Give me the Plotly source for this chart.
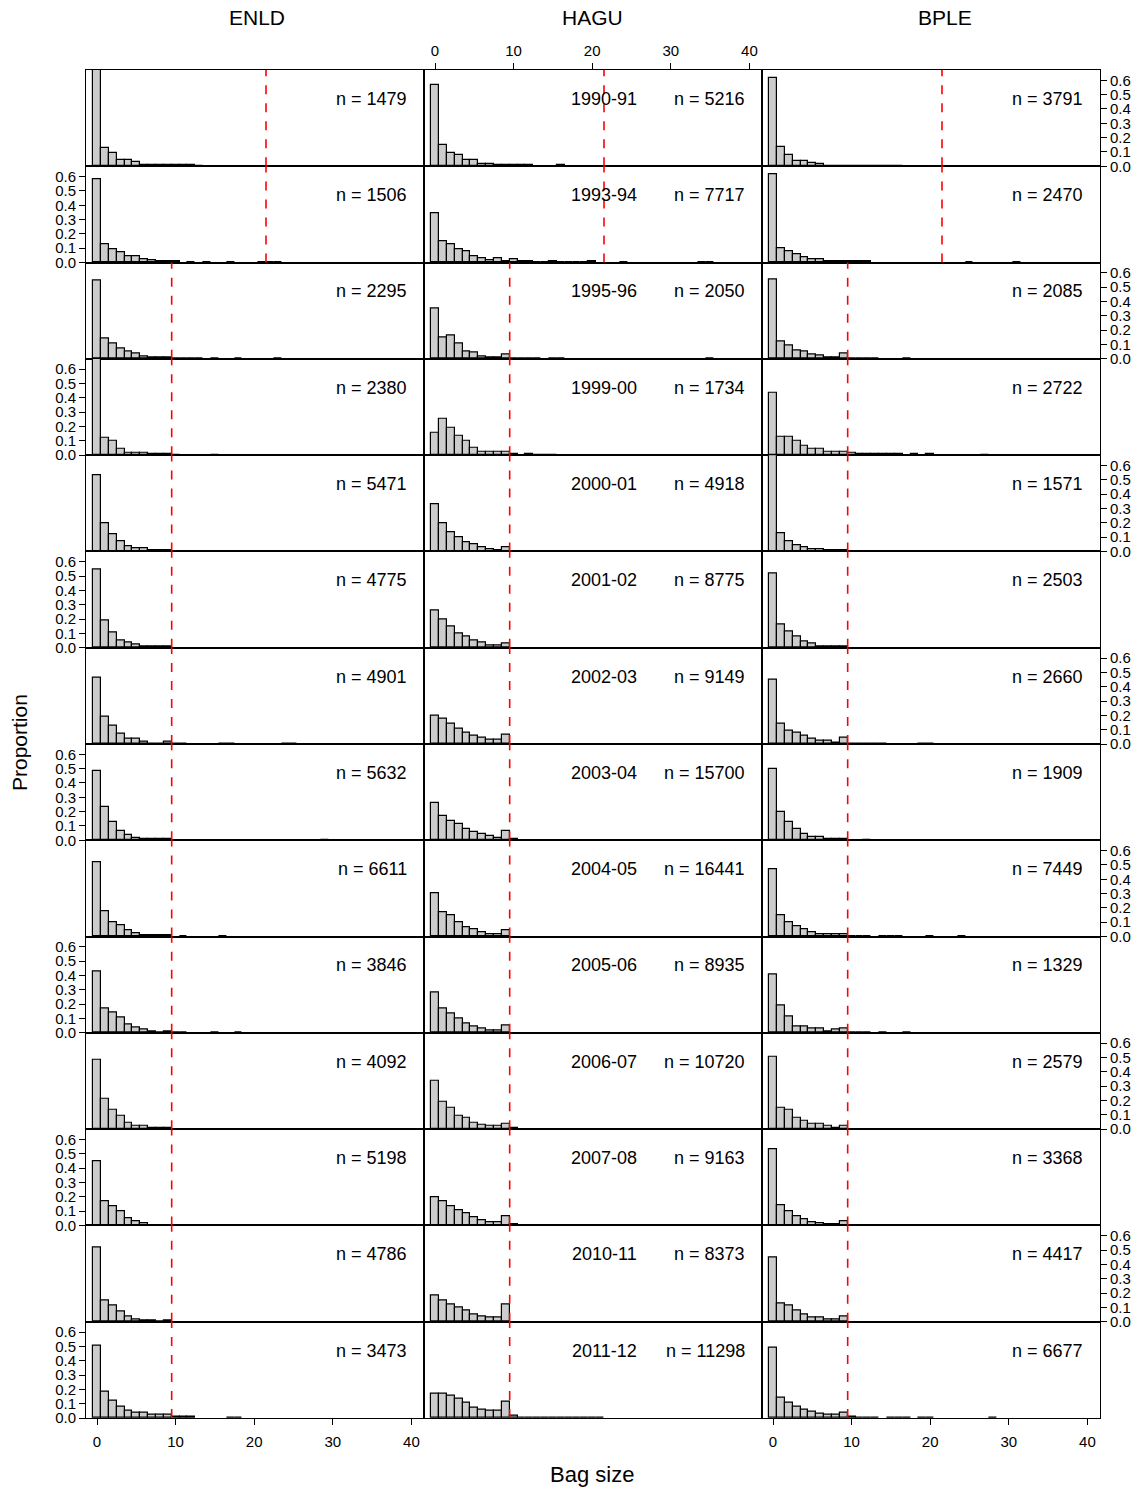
import plotly.graph_objects as go
from plotly.subplots import make_subplots

seasons = ["1990-91", "1993-94", "1995-96", "1999-00", "2000-01", "2001-02", "2002-03",
           "2003-04", "2004-05", "2005-06", "2006-07", "2007-08", "2010-11", "2011-12"]
species = ["ENLD", "HAGU", "BPLE"]
tick_x = [0, 10, 20, 30, 40]
tick_y = [0.0, 0.1, 0.2, 0.3, 0.4, 0.5, 0.6]

# bag limit line position per season (limit + 0.5)
limit_line = [21.5, 21.5, 9.5, 9.5, 9.5, 9.5, 9.5, 9.5, 9.5, 9.5, 9.5, 9.5, 9.5, 9.5]

enld_n = [1479, 1506, 2295, 2380, 5471, 4775, 4901, 5632, 6611, 3846, 4092, 5198, 4786, 3473]
hagu_n = [5216, 7717, 2050, 1734, 4918, 8775, 9149, 15700, 16441, 8935, 10720, 9163, 8373, 11298]
bple_n = [3791, 2470, 2085, 2722, 1571, 2503, 2660, 1909, 7449, 1329, 2579, 3368, 4417, 6677]

# proportions of bags by bag size 0,1,2,...
enld_prop = [
    [0.75, 0.13, 0.093, 0.047, 0.047, 0.033, 0.008, 0.008, 0.008, 0.006, 0.006, 0.006, 0.006, 0.005],
    [0.584, 0.131, 0.096, 0.07, 0.047, 0.047, 0.026, 0.014, 0.012, 0.008, 0.012, 0, 0.003, 0, 0.003,
     0, 0, 0.003, 0, 0, 0, 0.002, 0.002, 0.002],
    [0.547, 0.14, 0.107, 0.07, 0.049, 0.035, 0.014, 0.009, 0.009, 0.009, 0.003, 0.003, 0.003, 0.003, 0,
     0.003, 0, 0, 0.003, 0, 0, 0, 0, 0.003],
    [0.75, 0.121, 0.098, 0.047, 0.015, 0.015, 0.015, 0.007, 0.007, 0.007, 0.005, 0, 0, 0, 0, 0.002],
    [0.535, 0.2, 0.119, 0.07, 0.035, 0.021, 0.021, 0.009, 0.009, 0.009, 0.003, 0.003, 0, 0.003, 0.003,
     0, 0, 0.003, 0.003, 0.003, 0, 0, 0, 0, 0, 0, 0, 0, 0.002],
    [0.549, 0.189, 0.11, 0.049, 0.035, 0.023, 0.01, 0.007, 0.007, 0.007],
    [0.465, 0.192, 0.131, 0.072, 0.037, 0.037, 0.014, 0.005, 0.005, 0.014, 0.002, 0.002, 0, 0, 0, 0,
     0.002, 0.002, 0, 0, 0, 0, 0, 0, 0.002, 0.002],
    [0.481, 0.234, 0.126, 0.063, 0.04, 0.019, 0.007, 0.007, 0.007, 0.007, 0, 0, 0, 0, 0, 0, 0, 0, 0,
     0, 0, 0, 0, 0, 0, 0, 0, 0, 0, 0.002],
    [0.521, 0.175, 0.103, 0.077, 0.042, 0.021, 0.007, 0.007, 0.007, 0.007, 0, 0.002, 0, 0, 0, 0, 0.002],
    [0.43, 0.168, 0.143, 0.107, 0.058, 0.035, 0.023, 0.012, 0.003, 0.009, 0.003, 0.003, 0, 0, 0,
     0.002, 0, 0, 0.002],
    [0.486, 0.213, 0.138, 0.091, 0.047, 0.021, 0.021, 0.007, 0.007, 0.007],
    [0.446, 0.171, 0.136, 0.098, 0.051, 0.028, 0.014, 0.005, 0.005, 0.005, 0.003, 0.003, 0.003, 0.003,
     0, 0, 0, 0, 0, 0, 0, 0, 0, 0, 0, 0, 0, 0, 0.002, 0.002, 0, 0, 0, 0, 0, 0.002, 0, 0, 0, 0.002],
    [0.519, 0.152, 0.112, 0.075, 0.04, 0.019, 0.009, 0.009, 0.002, 0.009],
    [0.502, 0.18, 0.121, 0.082, 0.049, 0.035, 0.035, 0.021, 0.021, 0.021, 0.007, 0.007, 0.007, 0, 0,
     0, 0, 0.002, 0.002],
]

hagu_prop = [
    [0.57, 0.15, 0.091, 0.079, 0.042, 0.042, 0.019, 0.019, 0.009, 0.009, 0.009, 0.009, 0.009, 0, 0, 0,
     0.009],
    [0.343, 0.152, 0.126, 0.091, 0.079, 0.042, 0.028, 0.019, 0.03, 0.012, 0.021, 0.012, 0.012, 0.005,
     0.005, 0.009, 0.003, 0.003, 0.003, 0.003, 0.009, 0, 0, 0, 0.002, 0, 0, 0, 0, 0, 0, 0, 0, 0,
     0.002, 0.002],
    [0.35, 0.147, 0.164, 0.105, 0.054, 0.042, 0.019, 0.009, 0.009, 0.033, 0.004, 0.004, 0.004, 0.004,
     0, 0.003, 0.003, 0, 0, 0, 0, 0, 0, 0, 0, 0, 0, 0, 0, 0, 0, 0, 0, 0, 0, 0.002],
    [0.157, 0.252, 0.192, 0.133, 0.103, 0.054, 0.021, 0.021, 0.021, 0.021, 0.007, 0, 0.007, 0.002,
     0.002, 0.002],
    [0.329, 0.199, 0.138, 0.1, 0.068, 0.054, 0.03, 0.019, 0.009, 0.03, 0.002, 0.002, 0, 0, 0, 0, 0,
     0, 0, 0, 0, 0, 0.002, 0, 0, 0, 0, 0, 0, 0, 0, 0, 0, 0, 0, 0, 0, 0, 0, 0.002, 0.002],
    [0.257, 0.199, 0.152, 0.103, 0.079, 0.054, 0.04, 0.019, 0.019, 0.03],
    [0.199, 0.178, 0.14, 0.105, 0.079, 0.056, 0.042, 0.033, 0.033, 0.068],
    [0.259, 0.173, 0.138, 0.112, 0.077, 0.056, 0.047, 0.03, 0.019, 0.065, 0.007],
    [0.304, 0.173, 0.147, 0.098, 0.065, 0.051, 0.033, 0.019, 0.019, 0.042],
    [0.283, 0.173, 0.138, 0.103, 0.065, 0.042, 0.03, 0.019, 0.019, 0.054],
    [0.334, 0.187, 0.152, 0.093, 0.079, 0.047, 0.033, 0.021, 0.021, 0.035, 0.009],
    [0.194, 0.171, 0.136, 0.11, 0.086, 0.058, 0.04, 0.026, 0.026, 0.063, 0.007],
    [0.182, 0.152, 0.124, 0.1, 0.079, 0.051, 0.037, 0.028, 0.028, 0.124],
    [0.173, 0.173, 0.157, 0.133, 0.107, 0.072, 0.056, 0.049, 0.049, 0.112, 0.014, 0.003, 0.003, 0.002,
     0.002, 0.002, 0.002, 0.002, 0.002, 0.002, 0.002, 0.002],
]

bple_prop = [
    [0.617, 0.138, 0.082, 0.04, 0.04, 0.026, 0.016, 0.005, 0.005, 0.005, 0.005, 0.005, 0.005, 0.005,
     0.005, 0.005, 0.005],
    [0.617, 0.1, 0.077, 0.056, 0.04, 0.021, 0.021, 0.007, 0.007, 0.007, 0.007, 0.007, 0.007, 0, 0, 0,
     0, 0, 0, 0, 0, 0, 0, 0, 0, 0.002, 0, 0, 0, 0, 0, 0.002],
    [0.551, 0.121, 0.096, 0.058, 0.049, 0.033, 0.026, 0.012, 0.012, 0.04, 0.005, 0.005, 0.005, 0.005,
     0, 0, 0, 0.002],
    [0.432, 0.126, 0.126, 0.098, 0.065, 0.044, 0.044, 0.023, 0.023, 0.023, 0.014, 0.007, 0.007, 0.007,
     0.007, 0.007, 0.007, 0, 0.007, 0, 0.007, 0, 0, 0, 0, 0, 0, 0.002],
    [0.75, 0.128, 0.07, 0.042, 0.03, 0.019, 0.019, 0.007, 0.007, 0.007, 0.003, 0.003, 0, 0, 0, 0, 0,
     0, 0, 0.002],
    [0.521, 0.161, 0.114, 0.079, 0.044, 0.028, 0.012, 0.012, 0.012, 0.012],
    [0.451, 0.14, 0.091, 0.079, 0.056, 0.035, 0.023, 0.023, 0.012, 0.047, 0.002, 0.002, 0.002, 0.002,
     0.002, 0, 0, 0, 0, 0.002, 0.002],
    [0.5, 0.199, 0.129, 0.077, 0.042, 0.021, 0.021, 0.009, 0.009, 0.009, 0, 0, 0.002],
    [0.472, 0.147, 0.1, 0.075, 0.051, 0.03, 0.019, 0.019, 0.019, 0.019, 0.002, 0.002, 0.002, 0, 0.002,
     0.002, 0.002, 0, 0, 0, 0.002, 0, 0, 0, 0.002],
    [0.404, 0.189, 0.114, 0.044, 0.044, 0.033, 0.033, 0.012, 0.023, 0.033, 0.002, 0.002, 0.002, 0,
     0.002, 0, 0, 0.002],
    [0.505, 0.152, 0.133, 0.079, 0.058, 0.035, 0.035, 0.023, 0.012, 0.023],
    [0.533, 0.14, 0.103, 0.065, 0.042, 0.026, 0.016, 0.007, 0.007, 0.03, 0.002, 0.002, 0.002, 0, 0,
     0.002, 0.002, 0, 0, 0, 0, 0, 0, 0, 0, 0, 0.002],
    [0.451, 0.126, 0.114, 0.077, 0.054, 0.03, 0.03, 0.019, 0.019, 0.035],
    [0.493, 0.145, 0.107, 0.082, 0.061, 0.044, 0.033, 0.023, 0.023, 0.04, 0.012, 0.002, 0.002, 0.002,
     0, 0.002, 0.002, 0.002, 0, 0.002, 0.002, 0, 0, 0, 0, 0, 0, 0, 0.002],
]

all_prop = [enld_prop, hagu_prop, bple_prop]
all_n = [enld_n, hagu_n, bple_n]

FONT = "Liberation Sans, Arial, sans-serif"
NR, NC = len(seasons), 3

fig = make_subplots(rows=NR, cols=NC, horizontal_spacing=0, vertical_spacing=0)

for r in range(NR):
    for c in range(NC):
        vals = all_prop[c][r]
        xs = list(range(len(vals)))
        ys = [v if v > 0 else None for v in vals]
        fig.add_trace(go.Bar(x=xs, y=ys, width=1,
                             marker=dict(color="#cccccc", line=dict(color="black", width=1.2)),
                             showlegend=False, hoverinfo="x+y"),
                      row=r + 1, col=c + 1)
        idx = r * NC + c + 1
        sfx = "" if idx == 1 else str(idx)
        fig.add_shape(type="line", xref="x" + sfx, yref="y" + sfx + " domain",
                      x0=limit_line[r], x1=limit_line[r], y0=0, y1=1,
                      line=dict(color="red", width=1.6, dash="dash"))
        fig.add_annotation(xref="x" + sfx + " domain", yref="y" + sfx + " domain",
                           x=0.955, y=0.70, xanchor="right", yanchor="middle",
                           text="n = %d" % all_n[c][r], showarrow=False,
                           font=dict(family=FONT, size=18, color="black"))
        if c == 1:
            fig.add_annotation(xref="x" + sfx + " domain", yref="y" + sfx + " domain",
                               x=0.533, y=0.70, xanchor="center", yanchor="middle",
                               text=seasons[r], showarrow=False,
                               font=dict(family=FONT, size=18, color="black"))

        # axes
        show_x = (r == NR - 1 and c in (0, 2)) or (r == 0 and c == 1)
        xa = dict(range=[-1.4, 41.6], showline=True, linecolor="black", linewidth=1,
                  mirror=True, showgrid=False, zeroline=False,
                  tickvals=tick_x, ticks="outside" if show_x else "",
                  ticklen=6, tickwidth=1, tickcolor="black",
                  showticklabels=show_x, ticklabelstandoff=4,
                  tickfont=dict(family=FONT, size=15, color="black"))
        if r == 0 and c == 1:
            xa["side"] = "top"
            xa["ticklabelstandoff"] = 1
        fig.update_xaxes(xa, row=r + 1, col=c + 1)

        show_y_left = (c == 0 and r % 2 == 1)
        show_y_right = (c == 2 and r % 2 == 0)
        show_y = show_y_left or show_y_right
        ya = dict(range=[0, 0.672], showline=True, linecolor="black", linewidth=1,
                  mirror=True, showgrid=False, zeroline=False,
                  tickvals=tick_y, tickformat=".1f",
                  ticks="outside" if show_y else "", ticklen=6, tickwidth=1, tickcolor="black",
                  showticklabels=show_y,
                  tickfont=dict(family=FONT, size=15, color="black"))
        if show_y_right:
            ya["side"] = "right"
        fig.update_yaxes(ya, row=r + 1, col=c + 1)

L, R, T, B = 86, 44, 70, 72
W, H = 1144, 1490
pw, ph = W - L - R, H - T - B

col_centers = [257, 592, 945]
for name, cx in zip(species, col_centers):
    fig.add_annotation(xref="paper", yref="paper", x=(cx - L) / pw, y=(H - B - 18) / ph,
                       text=name, showarrow=False, xanchor="center", yanchor="middle",
                       font=dict(family=FONT, size=21, color="black"))

fig.add_annotation(xref="paper", yref="paper", x=(20 - L) / pw, y=(H - B - 743) / ph,
                   text="Proportion", textangle=-90, showarrow=False,
                   xanchor="center", yanchor="middle",
                   font=dict(family=FONT, size=21, color="black"))
fig.add_annotation(xref="paper", yref="paper", x=(592 - L) / pw, y=(H - B - 1474) / ph,
                   text="Bag size", showarrow=False, xanchor="center", yanchor="middle",
                   font=dict(family=FONT, size=22, color="black"))

fig.update_layout(width=W, height=H, margin=dict(l=L, r=R, t=T, b=B),
                  paper_bgcolor="white", plot_bgcolor="white", bargap=0,
                  font=dict(family=FONT, color="black"))

fig.write_html("out.html")
